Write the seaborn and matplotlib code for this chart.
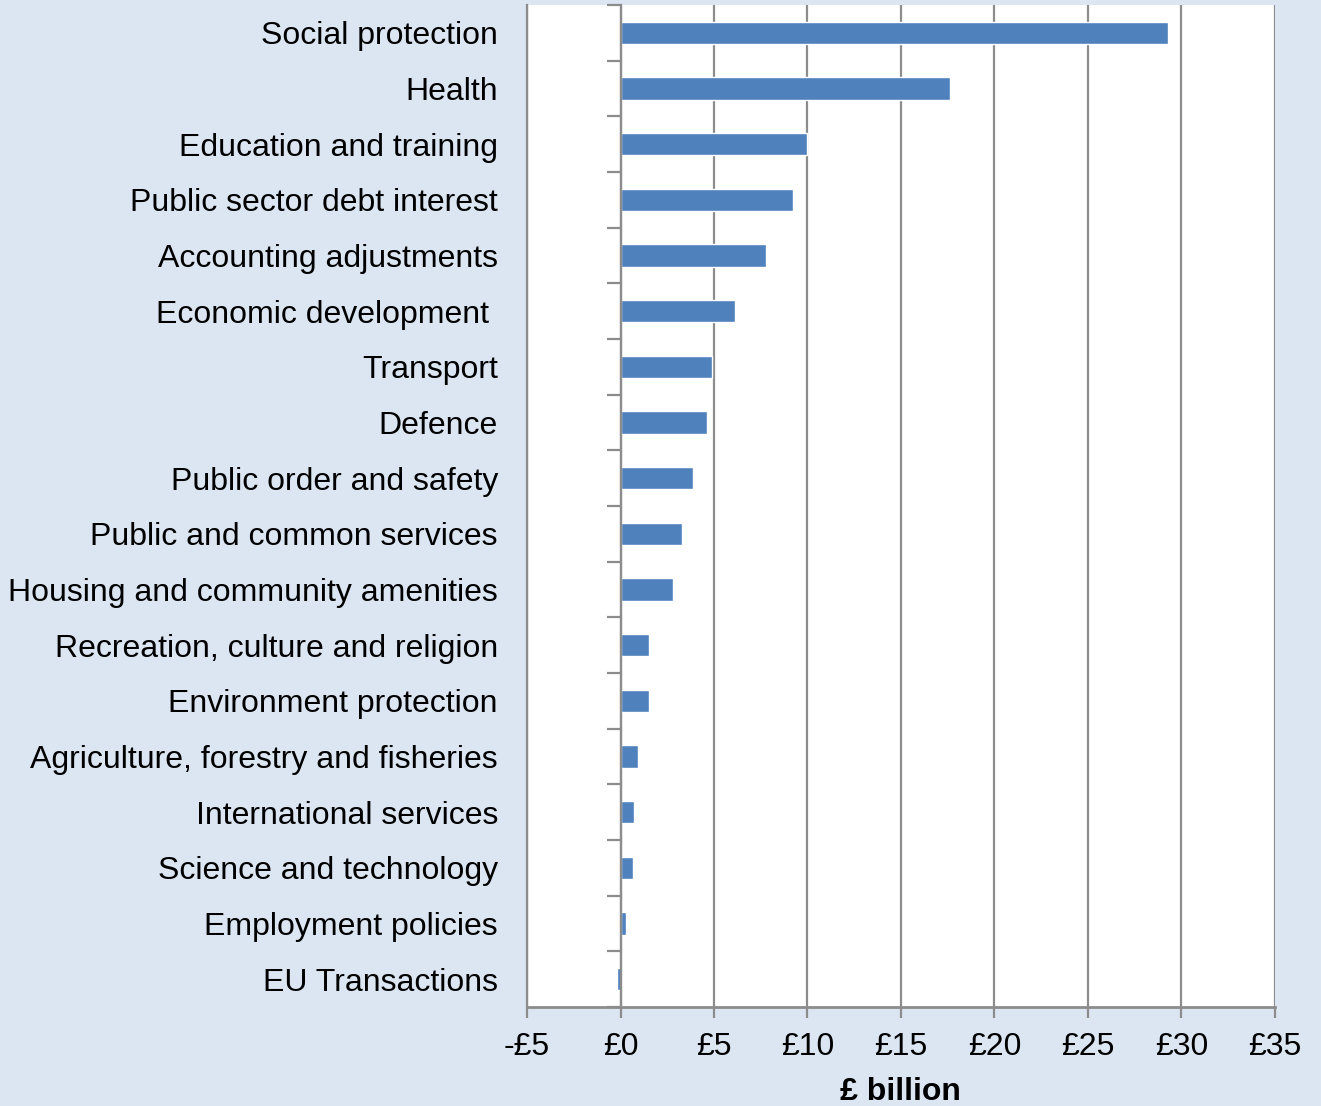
import matplotlib
matplotlib.use("Agg")
import matplotlib.pyplot as plt
import seaborn as sns
import pandas as pd
import numpy as np

# Spending by function, £ billion
categories = [
    "Social protection",
    "Health",
    "Education and training",
    "Public sector debt interest",
    "Accounting adjustments",
    "Economic development ",
    "Transport",
    "Defence",
    "Public order and safety",
    "Public and common services",
    "Housing and community amenities",
    "Recreation, culture and religion",
    "Environment protection",
    "Agriculture, forestry and fisheries",
    "International services",
    "Science and technology",
    "Employment policies",
    "EU Transactions",
]
values = [29.3, 17.6, 10.0, 9.2, 7.8, 6.1, 4.9, 4.6, 3.9, 3.3, 2.8,
          1.5, 1.5, 0.95, 0.7, 0.65, 0.3, -0.2]
x_ticks = [-5, 0, 5, 10, 15, 20, 25, 30, 35]
x_tick_labels = ["-£5", "£0", "£5", "£10", "£15", "£20", "£25", "£30", "£35"]

df = pd.DataFrame({"category": categories, "value": values})

sns.set_theme(style="white")
plt.rcParams["font.family"] = ["Liberation Sans", "DejaVu Sans"]
plt.rcParams["text.color"] = "black"
plt.rcParams["axes.labelcolor"] = "black"
plt.rcParams["xtick.color"] = "black"
plt.rcParams["ytick.color"] = "black"

bg = "#DCE6F2"
bar_color = "#4F81BD"
grey = "#8C8C8C"
fs = 23

fig = plt.figure(figsize=(13.21, 11.06), dpi=100, facecolor=bg)
ax = fig.add_axes([0.399, 0.0895, 0.566, 0.906])
ax.set_facecolor("white")

sns.barplot(data=df, x="value", y="category", orient="h", color=bar_color,
            width=0.4, saturation=1, ax=ax, zorder=3)

ax.set_xlim(-5, 35)
ax.set_ylim(len(categories) - 0.5, -0.5)

# Vertical gridlines every £5
ax.set_xticks(x_ticks)
ax.set_xticklabels(x_tick_labels, fontsize=fs, color="black")
ax.xaxis.grid(True, color=grey, linewidth=1.6, zorder=0)
ax.yaxis.grid(False)
ax.tick_params(axis="x", direction="out", length=8, width=1.6, color=grey,
               labelcolor="black", pad=10, bottom=True)

for side in ["top", "right"]:
    ax.spines[side].set_visible(False)
ax.spines["bottom"].set_color(grey)
ax.spines["bottom"].set_linewidth(2)

# Category axis sits on the zero line, with tick marks between the bars
ax.spines["left"].set_position(("data", 0))
ax.spines["left"].set_color(grey)
ax.spines["left"].set_linewidth(1.6)
ax.spines["left"].set_zorder(4)
ax.set_yticks(np.arange(len(categories)))
ax.set_yticklabels([])
ax.set_yticks(np.arange(len(categories) + 1) - 0.5, minor=True)
ax.tick_params(axis="y", which="major", length=0)
ax.tick_params(axis="y", which="minor", direction="out", length=10,
               width=1.6, color=grey, left=True)
ax.set_ylabel("")

# Category names on the left edge of the plot area
sec = ax.secondary_yaxis("left")
sec.set_yticks(np.arange(len(categories)))
sec.set_yticklabels(categories, fontsize=fs, color="black")
sec.tick_params(length=0, pad=21, labelcolor="black")
sec.spines["left"].set_color(grey)
sec.spines["left"].set_linewidth(1.6)

ax.set_xlabel("£ billion", fontsize=fs, fontweight="bold", color="black",
              labelpad=11)

fig.savefig("out.png", dpi=100, facecolor=bg)
